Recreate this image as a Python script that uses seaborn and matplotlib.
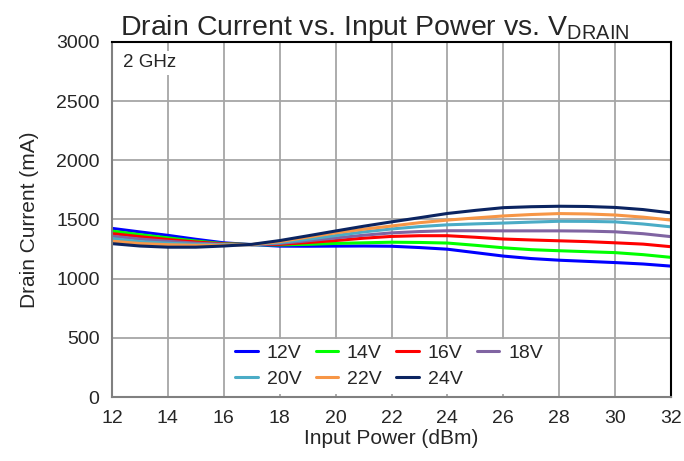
import matplotlib
matplotlib.use("Agg")
import matplotlib.pyplot as plt
import seaborn as sns
import pandas as pd

# Input power sweep (dBm)
input_power = list(range(12, 33))

# Drain current (mA) per drain voltage
i_12v = [1425, 1395, 1366, 1333, 1303, 1288, 1275, 1274, 1275, 1276, 1274,
         1263, 1249, 1220, 1191, 1170, 1156, 1146, 1136, 1124, 1106]
i_14v = [1402, 1372, 1345, 1318, 1296, 1288, 1285, 1290, 1298, 1303, 1308,
         1306, 1301, 1282, 1261, 1245, 1236, 1228, 1220, 1203, 1180]
i_16v = [1381, 1355, 1331, 1310, 1293, 1288, 1290, 1305, 1322, 1342, 1357,
         1363, 1363, 1350, 1335, 1327, 1320, 1313, 1303, 1292, 1270]
i_18v = [1359, 1335, 1316, 1300, 1290, 1287, 1298, 1320, 1344, 1367, 1387,
         1398, 1405, 1405, 1404, 1404, 1404, 1402, 1396, 1380, 1355]
i_20v = [1339, 1313, 1300, 1290, 1287, 1287, 1305, 1333, 1364, 1395, 1420,
         1440, 1455, 1463, 1470, 1478, 1485, 1484, 1480, 1462, 1438]
i_22v = [1317, 1297, 1287, 1282, 1283, 1288, 1313, 1350, 1387, 1418, 1445,
         1473, 1495, 1513, 1530, 1542, 1550, 1547, 1538, 1520, 1495]
i_24v = [1296, 1276, 1266, 1266, 1276, 1290, 1322, 1362, 1403, 1443, 1480,
         1515, 1551, 1577, 1600, 1608, 1612, 1610, 1602, 1584, 1556]

voltages = ["12V", "14V", "16V", "18V", "20V", "22V", "24V"]
currents = [i_12v, i_14v, i_16v, i_18v, i_20v, i_22v, i_24v]
colors = ["#0000FF", "#00FF00", "#FF0000", "#8064A2", "#4BACC6", "#F79646", "#0B2461"]

x_ticks = list(range(12, 33, 2))
y_ticks = list(range(0, 3001, 500))

rows = []
for v, cur in zip(voltages, currents):
    for p, c in zip(input_power, cur):
        rows.append({"Input Power (dBm)": p, "Drain Current (mA)": c, "VDRAIN": v})
df = pd.DataFrame(rows)

sns.set_style("white")
plt.rcParams["font.family"] = ["Liberation Sans", "DejaVu Sans"]

fig = plt.figure(figsize=(6.84, 4.61), dpi=100)
ax = fig.add_axes([112 / 684, 1 - 397 / 461, 559 / 684, 355 / 461])

sns.lineplot(data=df, x="Input Power (dBm)", y="Drain Current (mA)", hue="VDRAIN",
             hue_order=voltages, palette=dict(zip(voltages, colors)),
             linewidth=2.2, ax=ax, legend=True)

ax.set_xlim(12, 32)
ax.set_ylim(0, 3000)
ax.set_xticks(x_ticks)
ax.set_yticks(y_ticks)
ax.grid(True, color="#A6A6A6", linewidth=1.3)
ax.set_axisbelow(True)
for side in ["left", "bottom"]:
    ax.spines[side].set_color("#808080")
    ax.spines[side].set_linewidth(1.5)
for side in ["top", "right"]:
    ax.spines[side].set_color("#000000")
    ax.spines[side].set_linewidth(1.5)

ax.tick_params(axis="x", direction="in", length=5, color="#808080", labelsize=14, pad=9)
ax.tick_params(axis="y", length=0, labelsize=14, pad=9)
ax.set_xlabel("Input Power (dBm)", fontsize=15, labelpad=2)
ax.set_ylabel("Drain Current (mA)", fontsize=15, labelpad=12)

ax.set_title(r"Drain Current vs. Input Power vs. V$_\mathregular{DRAIN}$",
             fontsize=20.5, x=0.47, pad=5)

ax.text(0.02, 0.965, "2 GHz", transform=ax.transAxes, fontsize=13.5,
        ha="left", va="top",
        bbox=dict(facecolor="white", edgecolor="none", pad=2.5))

# legend laid out row by row: 12,14,16,18 / 20,22,24
handles, labels = ax.get_legend_handles_labels()
order = [0, 4, 1, 5, 2, 6, 3]
leg = ax.legend([handles[i] for i in order], [labels[i] for i in order],
                ncol=4, loc="lower left", bbox_to_anchor=(0.193, -0.018),
                frameon=True, fontsize=14, handlelength=1.15, handletextpad=0.45,
                columnspacing=0.75, labelspacing=0.42, borderpad=0.3)
leg.get_frame().set_facecolor("white")
leg.get_frame().set_edgecolor("none")
leg.get_frame().set_alpha(1.0)

fig.savefig("out.png", dpi=100)
